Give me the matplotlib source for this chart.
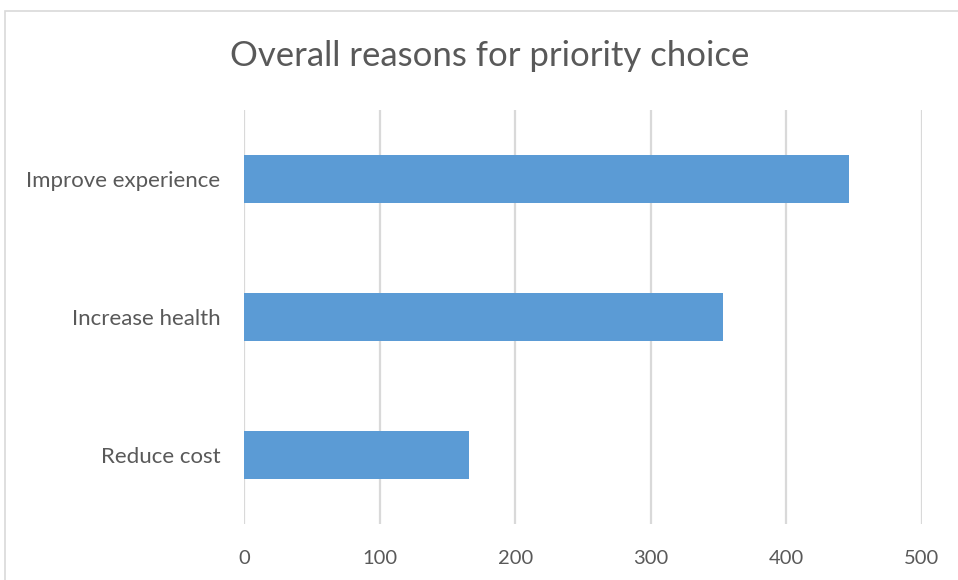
import matplotlib
matplotlib.use("Agg")
import matplotlib.pyplot as plt
from matplotlib.patches import Rectangle

categories = ["Reduce cost", "Increase health", "Improve experience"]
values = [166, 353, 446]
xticks = [0, 100, 200, 300, 400, 500]

plt.rcParams['font.family'] = ['Lato', 'DejaVu Sans']

fig = plt.figure(figsize=(9.58, 5.8), dpi=100)
W, H = 958, 580

# chart border
fig.patches.append(Rectangle((5 / W, -0.1), 1.0, (H - 11) / H + 0.1,
                             transform=fig.transFigure, fill=False,
                             edgecolor="#d9d9d9", linewidth=1.2))

ax = fig.add_axes([244 / W, (H - 524) / H, (922 - 244) / W, (524 - 110) / H])
ypos = list(range(len(categories)))
ax.barh(ypos, values, height=0.355, color="#5B9BD5", zorder=3)
ax.set_xlim(0, 500)
ax.set_ylim(-0.5, len(categories) - 0.5)
ax.set_xticks(xticks)
ax.set_xticklabels([str(t) for t in xticks])
ax.set_yticks(ypos)
ax.set_yticklabels(categories)
ax.grid(axis="x", color="#d9d9d9", linewidth=1.6, zorder=0)
for s in ax.spines.values():
    s.set_visible(False)
ax.tick_params(axis="both", length=0, labelcolor="#595959")
ax.tick_params(axis="x", pad=19, labelsize=14.5)
ax.tick_params(axis="y", pad=17, labelsize=16)

fig.text((234 + 745) / 2 / W, 1 - 56 / H, "Overall reasons for priority choice",
         ha="center", va="center", fontsize=25, color="#595959")

fig.savefig("out.png", dpi=100)
